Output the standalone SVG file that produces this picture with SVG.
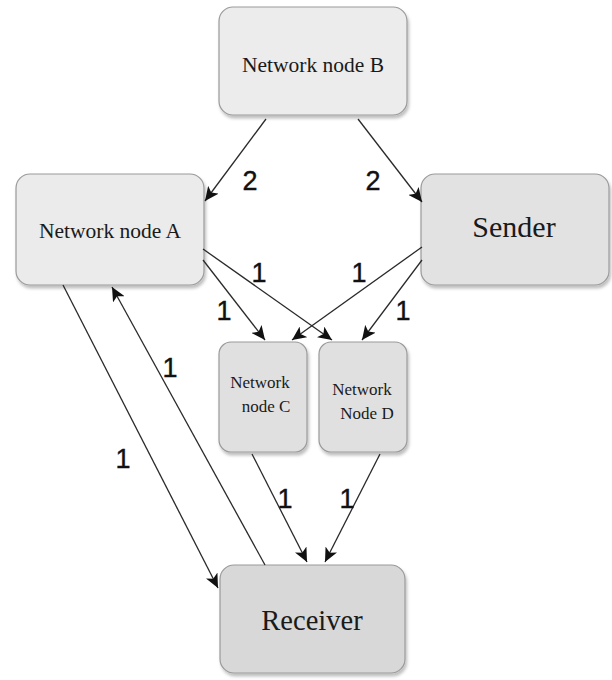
<svg xmlns="http://www.w3.org/2000/svg" width="612" height="680" viewBox="0 0 612 680">
<defs>
<filter id="sh" x="-10%" y="-10%" width="125%" height="130%">
<feDropShadow dx="1.5" dy="3" stdDeviation="1.5" flood-color="#000" flood-opacity="0.25"/>
</filter>
<marker id="ah" markerUnits="userSpaceOnUse" markerWidth="15" markerHeight="13" refX="14" refY="6.5" orient="auto">
<path d="M0,0 L14,6.5 L0,13 L3.5,6.5 z" fill="#111"/>
</marker>
<style>
.box{stroke:#9a9a9a;stroke-width:1.2;filter:url(#sh)}
.t{font-family:"Liberation Serif","Times New Roman",serif;fill:#1a1a1a;text-anchor:middle}
.c{fill:none;stroke:#2a2a2a;stroke-width:1.3;marker-end:url(#ah)}
.l{font-family:"Liberation Sans",Arial,sans-serif;font-size:27px;fill:#111;stroke:#111;stroke-width:0.4;text-anchor:middle}
</style>
</defs>
<g id="nodeB">
<rect class="box" x="219" y="7" width="188" height="108" rx="14" fill="#ececec"/>
<text class="t" x="313" y="72" font-size="21.5">Network node B</text>
</g>
<g id="nodeA">
<rect class="box" x="16" y="174" width="188" height="111" rx="14" fill="#ebebeb"/>
<text class="t" x="110" y="238" font-size="21.5">Network node A</text>
</g>
<g id="sender">
<rect class="box" x="421" y="174" width="188" height="111" rx="14" fill="#e2e2e2"/>
<text class="t" x="514" y="237" font-size="30">Sender</text>
</g>
<g id="nodeC">
<rect class="box" x="219" y="342" width="88" height="110" rx="12" fill="#e0e0e0"/>
<text class="t" x="260" y="388" font-size="17">Network</text>
<text class="t" x="266" y="412" font-size="17">node C</text>
</g>
<g id="nodeD">
<rect class="box" x="319" y="342" width="88" height="110" rx="12" fill="#e0e0e0"/>
<text class="t" x="362" y="395" font-size="17">Network</text>
<text class="t" x="367" y="419" font-size="17">Node D</text>
</g>
<g id="receiver">
<rect class="box" x="220" y="565" width="185" height="108" rx="14" fill="#d8d8d8"/>
<text class="t" x="312" y="630" font-size="28.5">Receiver</text>
</g>
<g id="connectors">
<line class="c" x1="266" y1="119" x2="205" y2="201"/>
<line class="c" x1="358" y1="119" x2="422" y2="202"/>
<line class="c" x1="203" y1="260" x2="265" y2="340"/>
<line class="c" x1="203" y1="249" x2="332" y2="340"/>
<line class="c" x1="422" y1="247" x2="292" y2="340"/>
<line class="c" x1="422" y1="260" x2="362" y2="340"/>
<line class="c" x1="63" y1="285" x2="218" y2="588"/>
<line class="c" x1="265" y1="565" x2="112" y2="287"/>
<line class="c" x1="252" y1="454" x2="307" y2="562"/>
<line class="c" x1="380" y1="454" x2="325" y2="562"/>
<text class="l" x="250" y="190">2</text>
<text class="l" x="373" y="190">2</text>
<text class="l" x="259" y="282">1</text>
<text class="l" x="359" y="282">1</text>
<text class="l" x="224" y="320">1</text>
<text class="l" x="403" y="320">1</text>
<text class="l" x="170" y="377">1</text>
<text class="l" x="123" y="468">1</text>
<text class="l" x="285" y="508">1</text>
<text class="l" x="347" y="508">1</text>
</g>
</svg>
